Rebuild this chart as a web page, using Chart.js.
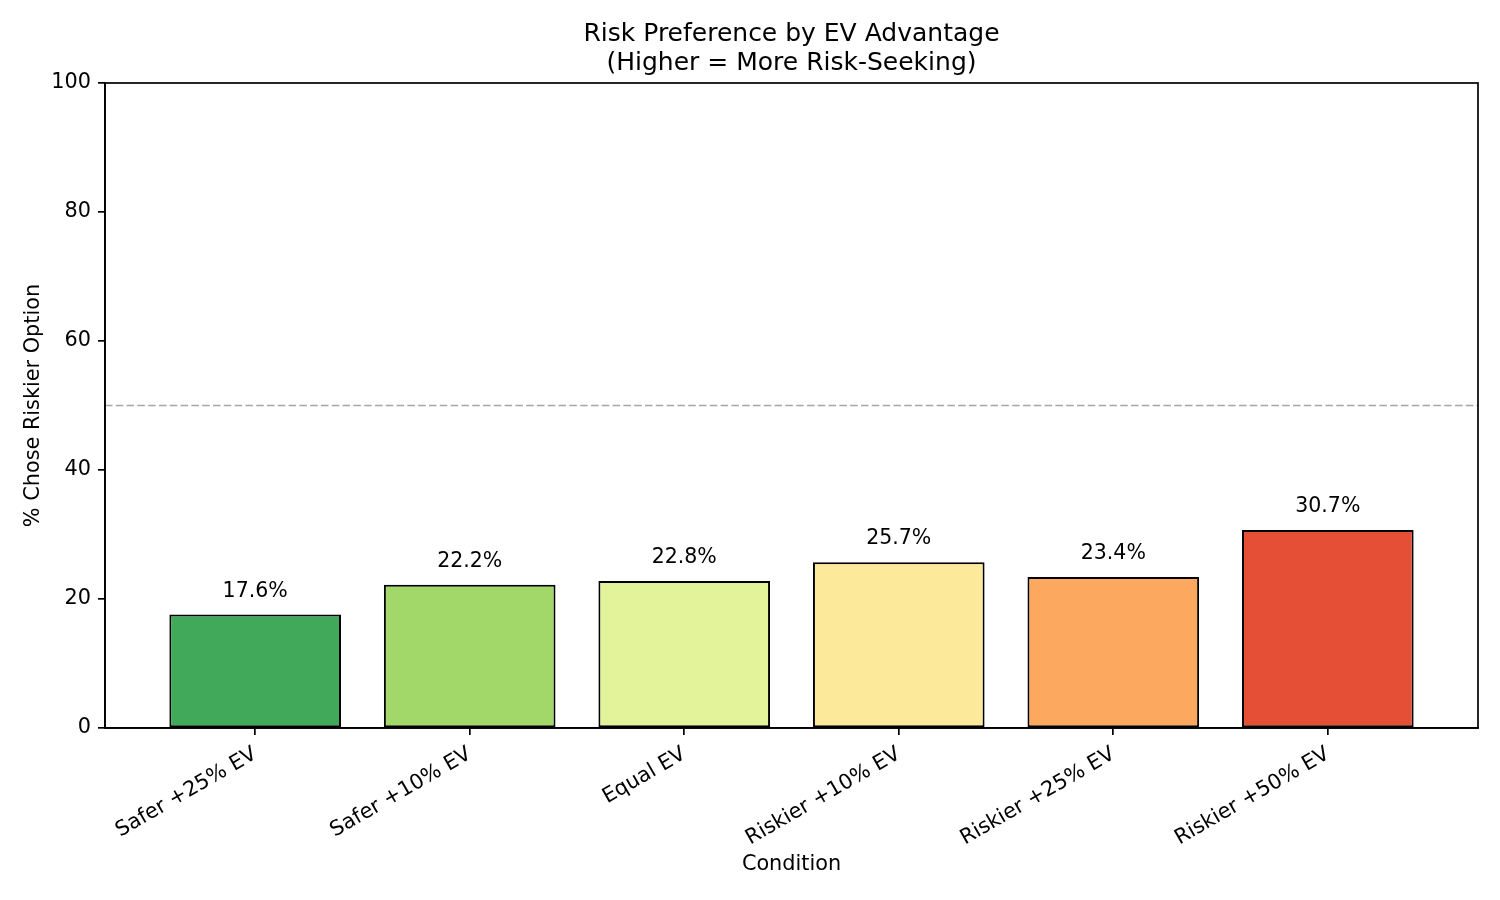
<!DOCTYPE html>
<html>
<head>
<meta charset="utf-8">
<script src="https://cdn.jsdelivr.net/npm/chart.js@4.4.1/dist/chart.umd.min.js"></script>
<style>
html,body{margin:0;padding:0;background:#fff;}
#wrap{width:1500px;height:900px;}
</style>
</head>
<body>
<div id="wrap"><canvas id="c" width="1500" height="900"></canvas></div>
<script>
const categories = ["Safer +25% EV", "Safer +10% EV", "Equal EV", "Riskier +10% EV", "Riskier +25% EV", "Riskier +50% EV"];
const pctRiskier = [17.6, 22.2, 22.8, 25.7, 23.4, 30.7];
const barColors = ["#40aa5a", "#a2d76a", "#e3f39a", "#fde99a", "#fca95f", "#e44f35"];
const yTicks = [0, 20, 40, 60, 80, 100];
const referenceLine = 50;

const FONT = "'DejaVu Sans', sans-serif";

const extras = {
  id: 'extras',
  beforeDatasetsDraw(chart) {
    const {ctx, chartArea: a, scales: {y}} = chart;
    const yy = y.getPixelForValue(referenceLine);
    ctx.save();
    ctx.strokeStyle = 'rgba(128,128,128,0.7)';
    ctx.lineWidth = 1.6;
    ctx.setLineDash([7.5, 3.3]);
    ctx.beginPath();
    ctx.moveTo(a.left, yy);
    ctx.lineTo(a.right, yy);
    ctx.stroke();
    ctx.restore();
  },
  afterDatasetsDraw(chart) {
    const {ctx, chartArea: a, scales: {x, y}} = chart;
    ctx.save();
    ctx.fillStyle = '#000';
    ctx.font = "20.5px " + FONT;
    ctx.textAlign = 'center';
    ctx.textBaseline = 'bottom';
    pctRiskier.forEach((v, i) => {
      ctx.fillText(v.toFixed(1) + '%', x.getPixelForValue(i), y.getPixelForValue(v + 2));
    });
    ctx.strokeStyle = '#000';
    ctx.lineWidth = 1.7;
    ctx.strokeRect(a.left, a.top, a.right - a.left, a.bottom - a.top);
    ctx.restore();
  }
};

new Chart(document.getElementById('c'), {
  type: 'bar',
  data: {
    datasets: [{
      data: pctRiskier.map((v, i) => ({x: i, y: v})),
      backgroundColor: barColors,
      borderColor: '#000',
      borderWidth: 2,
      borderSkipped: false,
      barPercentage: 0.8,
      categoryPercentage: 1.0
    }]
  },
  options: {
    responsive: false,
    animation: false,
    devicePixelRatio: 1,
    layout: {padding: {left: 0, right: 22, top: 0, bottom: 0}},
    plugins: {
      legend: {display: false},
      tooltip: {enabled: false},
      title: {
        display: true,
        fullSize: false,
        text: ['Risk Preference by EV Advantage', '(Higher = More Risk-Seeking)'],
        color: '#000',
        font: {family: FONT, size: 25, weight: 'normal', lineHeight: 1.15},
        padding: {top: 20, bottom: 5.5}
      }
    },
    scales: {
      x: {
        type: 'linear',
        min: -0.7,
        max: 5.7,
        offset: false,
        afterBuildTicks: s => { s.ticks = categories.map((_, i) => ({value: i})); },
        afterFit: s => { s.height = 172; },
        ticks: {
          autoSkip: false,
          minRotation: 30,
          maxRotation: 30,
          padding: 7,
          color: '#000',
          font: {family: FONT, size: 20.8},
          callback: (v) => categories[v] ?? ''
        },
        grid: {display: true, offset: false, drawOnChartArea: false, drawTicks: true, tickLength: 7, color: '#000', lineWidth: 1.7},
        border: {display: true, color: '#000', width: 1.7},
        title: {
          display: true, text: 'Condition', color: '#000',
          font: {family: FONT, size: 20.8, lineHeight: 1.2},
          padding: {top: 4, bottom: 23}
        }
      },
      y: {
        min: 0,
        max: 100,
        afterBuildTicks: s => { s.ticks = yTicks.map(v => ({value: v})); },
        afterFit: s => { s.width = 105; },
        ticks: {
          color: '#000',
          padding: 7,
          font: {family: FONT, size: 20.8}
        },
        grid: {display: true, drawOnChartArea: false, drawTicks: true, tickLength: 7, color: '#000', lineWidth: 1.7},
        border: {display: true, color: '#000', width: 1.7},
        title: {
          display: true, text: '% Chose Riskier Option', color: '#000',
          font: {family: FONT, size: 20.8, lineHeight: 1.2},
          padding: {top: 21, bottom: 0}
        }
      }
    }
  },
  plugins: [extras]
});
</script>
</body>
</html>
